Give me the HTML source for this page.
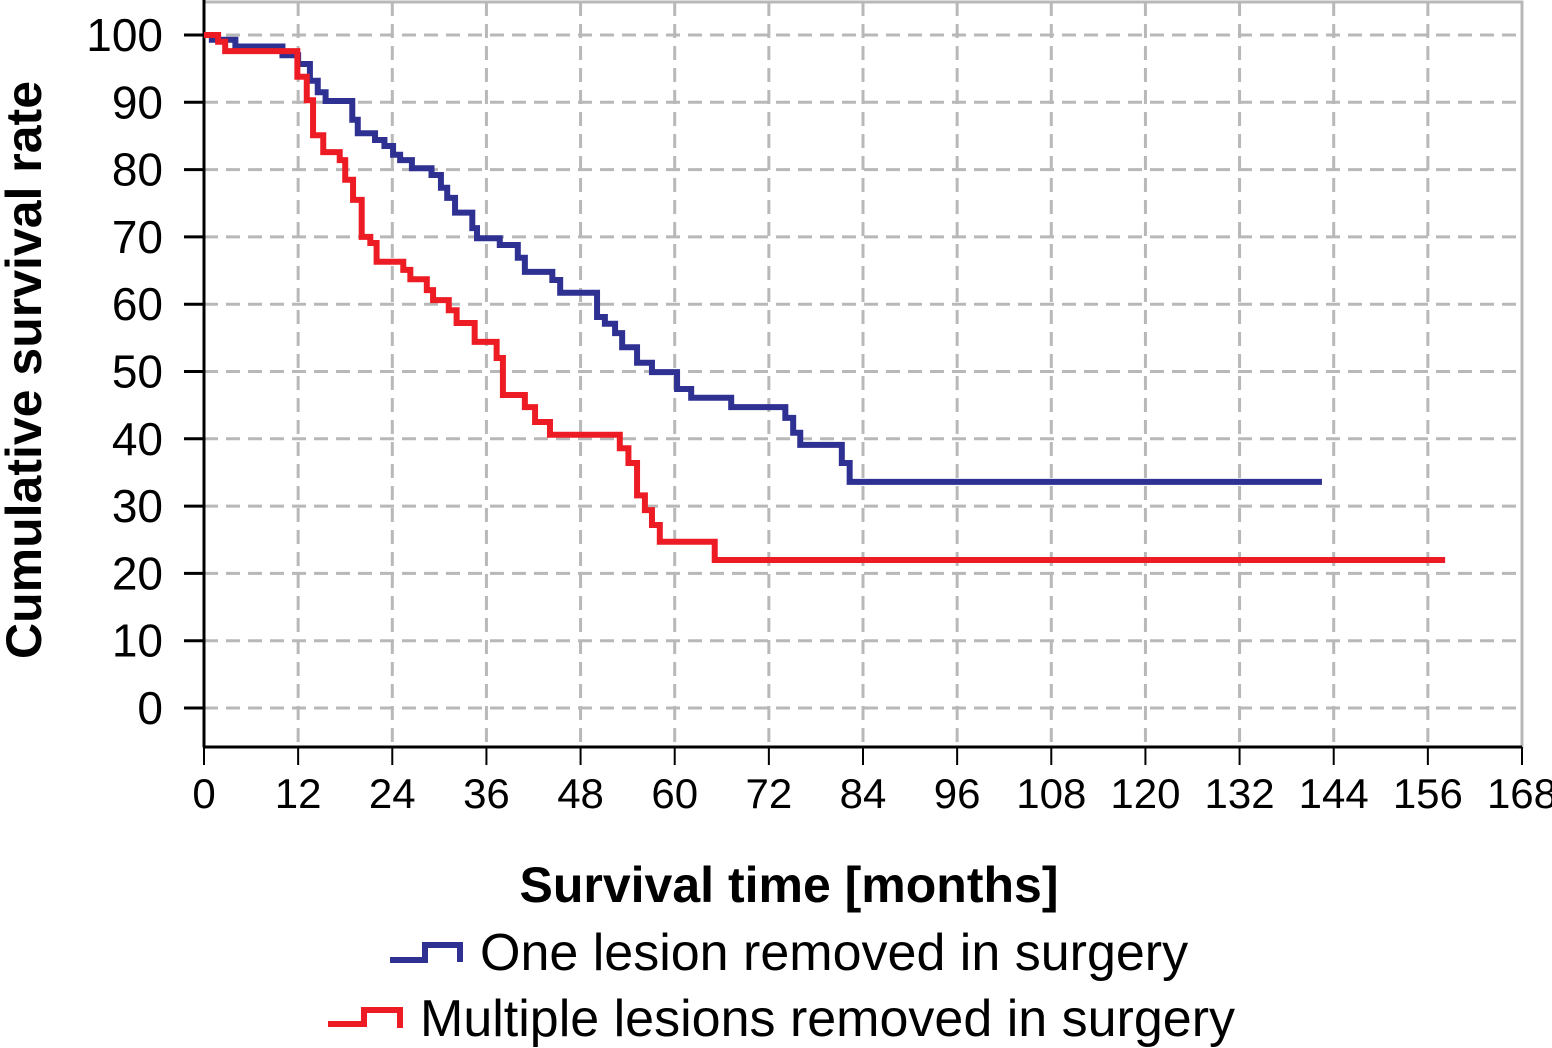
<!DOCTYPE html>
<html><head><meta charset="utf-8"><style>
body{margin:0;background:#fff;}
svg{display:block;font-family:"Liberation Sans",sans-serif;}
</style></head><body>
<svg id="chart" width="1552" height="1048">
<g id="grid"></g>
<g id="axes"></g>
<g id="series"></g>
<text x="789" y="902" text-anchor="middle" font-size="50" font-weight="bold">Survival time [months]</text>
<text transform="translate(41,370) rotate(-90)" text-anchor="middle" font-size="50" font-weight="bold">Cumulative survival rate</text>
<g>
<g>
<path d="M390,960 H425 V945 H460 V962" fill="none" stroke="#2e3192" stroke-width="6"/>
<text x="480" y="970" font-size="52">One lesion removed in surgery</text>
</g>
<g>
<path d="M328,1024 H364 V1010 H400 V1028" fill="none" stroke="#ed1c24" stroke-width="6"/>
<text x="420" y="1036" font-size="52">Multiple lesions removed in surgery</text>
</g>
</g>
</svg>
<script>
const xTicks=[0,12,24,36,48,60,72,84,96,108,120,132,144,156,168];
const yTicks=[0,10,20,30,40,50,60,70,80,90,100];
const oneTimes=[0,1,4,10,12,13.5,14.5,15.5,18.9,19.6,21.8,23,24.1,25,26.5,29,30.2,31,32,34.2,34.8,37.7,40,40.9,44.4,45.4,50.1,51.1,52.4,53.3,55.2,57.1,60.3,62.1,67.2,74.1,75.1,76,81.3,82.3];
const oneValues=[100,99.3,98.3,97,95.7,93.2,91.5,90.2,87.4,85.4,84.4,83.5,82.2,81.4,80.2,79.2,77.3,75.8,73.6,71.3,69.8,68.8,66.9,64.8,63.6,61.7,58.1,57.1,55.7,53.6,51.3,49.9,47.4,46.1,44.7,43.1,40.9,39.1,36.4,33.6];
const oneEnd=142.5;
const multiTimes=[0,1.8,2.7,11.9,13.1,13.9,15.2,17.3,18,19,20.1,21.2,22,25.4,26.3,28.4,29.2,31.2,32.2,34.5,37.3,38.1,40.9,42.2,44.1,53,54.1,55.2,56.2,57.1,58.1,65.1];
const multiValues=[100,99,97.6,93.8,90.3,85.1,82.6,81.4,78.5,75.5,70,69.1,66.3,65.1,63.7,62.1,60.6,59.1,57.2,54.4,52,46.5,44.7,42.5,40.6,38.6,36.4,31.6,29.4,27.2,24.7,22];
const multiEnd=158.2;

const L=204,R=1522,T=2,B=747;
const xs=v=>L+(v/168)*(R-L);
const ys=v=>708-v*6.73;
const NS="http://www.w3.org/2000/svg";
function mk(tag,attrs,parent){const e=document.createElementNS(NS,tag);for(const k in attrs)e.setAttribute(k,attrs[k]);parent.appendChild(e);return e;}
const grid=document.getElementById('grid'),axes=document.getElementById('axes'),series=document.getElementById('series');
mk('rect',{x:L,y:T,width:R-L,height:B-T,fill:'none',stroke:'#b8b8b8','stroke-width':3},grid);
xTicks.forEach(t=>{
  if(t>0&&t<168){const l=mk('line',{x1:xs(t),x2:xs(t),y1:T,y2:B,stroke:'#b8b8b8','stroke-width':3,'stroke-dasharray':'14,8'},grid);
  
  }
  const tk=mk('line',{x1:xs(t),x2:xs(t),y1:B,y2:B+18,stroke:'#000','stroke-width':2},axes);
  
  
  const tx=mk('text',{x:xs(t),y:808,'text-anchor':'middle','font-size':42},axes);
  tx.textContent=t;
  
  
});
yTicks.forEach(v=>{
  const l=mk('line',{x1:L,x2:R,y1:ys(v),y2:ys(v),stroke:'#b8b8b8','stroke-width':3,'stroke-dasharray':'14,8'},grid);
  
  
  const tk=mk('line',{x1:184,x2:L,y1:ys(v),y2:ys(v),stroke:'#000','stroke-width':3},axes);
  
  
  const tx=mk('text',{x:163,y:ys(v)+16,'text-anchor':'end','font-size':46},axes);
  tx.textContent=v;
  
  
});
const ya=mk('line',{x1:L,x2:L,y1:0,y2:B,stroke:'#000','stroke-width':3},axes);


const xa=mk('line',{x1:L,x2:R,y1:B,y2:B,stroke:'#000','stroke-width':3},axes);


function stepPath(times,vals,end){
  let d='M'+xs(times[0])+','+ys(vals[0]);
  for(let i=1;i<times.length;i++){d+=' H'+xs(times[i])+' V'+ys(vals[i]);}
  d+=' H'+xs(end);return d;
}
const p1=mk('path',{d:stepPath(oneTimes,oneValues,oneEnd),fill:'none',stroke:'#2e3192','stroke-width':6},series);


const p2=mk('path',{d:stepPath(multiTimes,multiValues,multiEnd),fill:'none',stroke:'#ed1c24','stroke-width':6},series);


</script>
</body></html>
